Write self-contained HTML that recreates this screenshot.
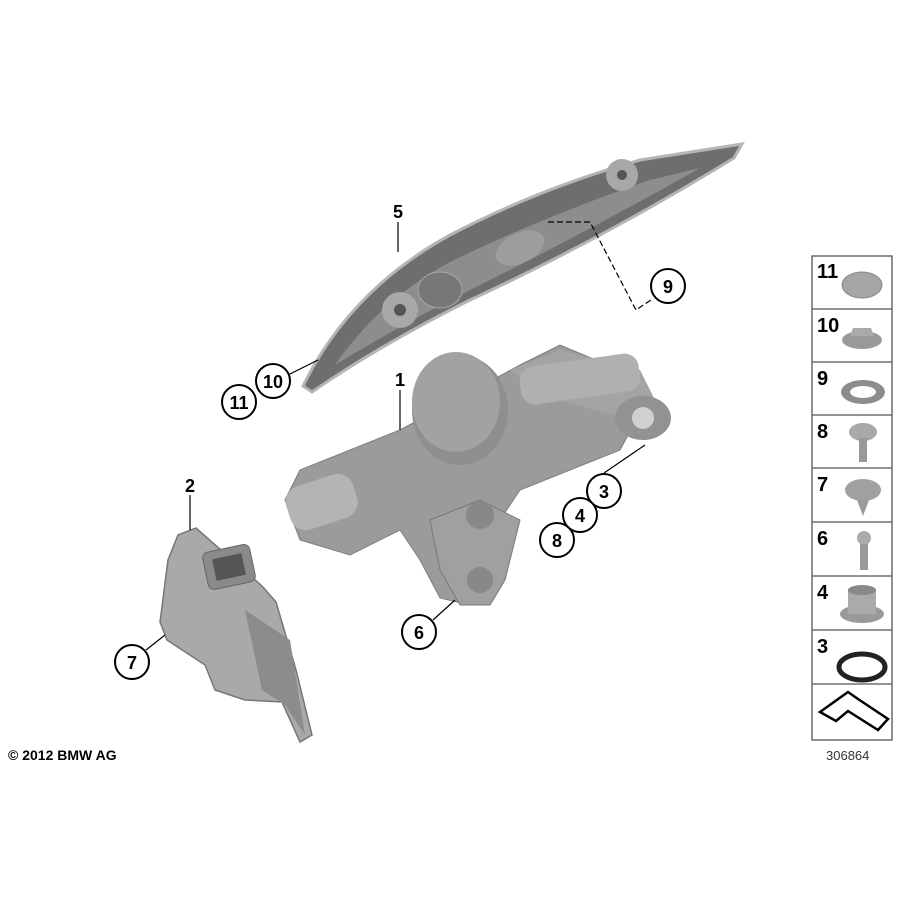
<!DOCTYPE html>
<html><head><style>
body{margin:0;background:#fff}
svg{display:block}
text{font-family:"Liberation Sans",sans-serif;font-weight:bold}
</style></head><body>
<svg width="900" height="900" viewBox="0 0 900 900">
<!-- arm 5 -->
<path d="M303,386 Q350,290 450,235 Q540,188 640,160 L742,144 L734,158 Q600,240 470,300 Q380,345 312,392 Z" fill="#6e6e6e" stroke="#b5b5b5" stroke-width="3"/>
<path d="M335,365 Q380,300 450,262 Q540,218 650,180 L700,168 Q600,225 480,285 Q400,325 335,365 Z" fill="#8d8d8d"/>
<circle cx="400" cy="310" r="18" fill="#a8a8a8"/><circle cx="400" cy="310" r="6" fill="#555"/>
<circle cx="622" cy="175" r="16" fill="#a8a8a8"/><circle cx="622" cy="175" r="5" fill="#555"/>
<ellipse cx="520" cy="248" rx="26" ry="15" fill="#9d9d9d" transform="rotate(-25 520 248)"/>
<ellipse cx="440" cy="290" rx="22" ry="18" fill="#777" stroke="#aaa"/>
<!-- bracket 2 -->
<polygon points="178,535 196,528 262,586 276,602 296,670 312,735 300,742 282,702 245,700 215,690 205,665 167,640 160,622 168,560" fill="#a9a9a9" stroke="#777" stroke-width="1.5"/>
<polygon points="245,610 290,640 305,735 285,705 262,690" fill="#8c8c8c"/>
<rect x="205" y="548" width="48" height="38" rx="6" fill="#8a8a8a" stroke="#666" transform="rotate(-12 229 567)"/>
<rect x="214" y="556" width="30" height="22" fill="#555" transform="rotate(-12 229 567)"/>
<!-- motor 1 -->
<polygon points="285,500 300,470 400,430 520,365 560,345 620,370 650,395 620,450 520,490 500,520 490,560 470,605 440,598 420,560 400,530 350,555 300,540" fill="#9b9b9b" stroke="#7d7d7d"/>
<polygon points="510,370 560,350 640,370 655,400 630,420 560,400" fill="#a4a4a4"/>
<rect x="520" y="360" width="120" height="38" rx="14" fill="#b0b0b0" transform="rotate(-8 580 380)"/>
<ellipse cx="643" cy="418" rx="28" ry="22" fill="#929292"/><circle cx="643" cy="418" r="11" fill="#d0d0d0"/>
<ellipse cx="460" cy="410" rx="48" ry="55" fill="#8f8f8f"/>
<ellipse cx="456" cy="402" rx="44" ry="50" fill="#a2a2a2"/>
<rect x="286" y="480" width="70" height="45" rx="16" fill="#b4b4b4" transform="rotate(-18 320 500)"/>
<polygon points="430,520 480,500 520,520 505,580 490,605 460,605 440,570" fill="#a0a0a0" stroke="#777"/>
<circle cx="480" cy="580" r="13" fill="#888"/><circle cx="480" cy="515" r="14" fill="#888"/>
<!-- leaders -->
<g stroke="#000" stroke-width="1.2" fill="none">
<line x1="398" y1="222" x2="398" y2="252"/>
<line x1="400" y1="390" x2="400" y2="430"/>
<line x1="190" y1="495" x2="190" y2="530"/>
<polyline points="548,222 590,222 636,310 651,300" stroke-dasharray="6,3"/>
<line x1="288" y1="375" x2="318" y2="360"/>
<line x1="604" y1="473" x2="645" y2="445"/>
<line x1="433" y1="620" x2="455" y2="600"/>
<line x1="146" y1="650" x2="165" y2="635"/>
</g>
<g fill="#fff" stroke="#000" stroke-width="2">
<circle cx="668" cy="286" r="17"/><circle cx="273" cy="381" r="17"/><circle cx="239" cy="402" r="17"/>
<circle cx="604" cy="491" r="17"/><circle cx="580" cy="515" r="17"/><circle cx="557" cy="540" r="17"/>
<circle cx="419" cy="632" r="17"/><circle cx="132" cy="662" r="17"/>
</g>
<g font-size="18" text-anchor="middle">
<text x="668" y="293">9</text><text x="273" y="388">10</text><text x="239" y="409">11</text>
<text x="604" y="498">3</text><text x="580" y="522">4</text><text x="557" y="547">8</text>
<text x="419" y="639">6</text><text x="132" y="669">7</text>
<text x="398" y="218">5</text><text x="400" y="386">1</text><text x="190" y="492">2</text>
</g>
<text x="8" y="760" font-size="14">© 2012 BMW AG</text>
<!-- right column -->
<g fill="none" stroke="#555" stroke-width="1.3">
<rect x="812" y="256" width="80" height="484"/>
<line x1="812" y1="309" x2="892" y2="309"/><line x1="812" y1="362" x2="892" y2="362"/>
<line x1="812" y1="415" x2="892" y2="415"/><line x1="812" y1="468" x2="892" y2="468"/>
<line x1="812" y1="522" x2="892" y2="522"/><line x1="812" y1="576" x2="892" y2="576"/>
<line x1="812" y1="630" x2="892" y2="630"/><line x1="812" y1="684" x2="892" y2="684"/>
</g>
<g font-size="20">
<text x="817" y="278">11</text><text x="817" y="332">10</text><text x="817" y="385">9</text>
<text x="817" y="438">8</text><text x="817" y="491">7</text><text x="817" y="545">6</text>
<text x="817" y="599">4</text><text x="817" y="653">3</text>
</g>
<ellipse cx="862" cy="285" rx="20" ry="13" fill="#a5a5a5" stroke="#888"/>
<ellipse cx="862" cy="340" rx="20" ry="9" fill="#999"/><polygon points="853,328 871,328 874,336 850,336" fill="#aaa"/>
<ellipse cx="863" cy="392" rx="22" ry="12" fill="#8d8d8d"/><ellipse cx="863" cy="392" rx="13" ry="6" fill="#fff"/>
<ellipse cx="863" cy="432" rx="14" ry="9" fill="#a9a9a9"/><rect x="859" y="438" width="8" height="24" fill="#999"/>
<ellipse cx="863" cy="490" rx="18" ry="11" fill="#a0a0a0"/><polygon points="857,500 869,500 863,516" fill="#999"/>
<circle cx="864" cy="538" r="7" fill="#aaa"/><rect x="860" y="544" width="8" height="26" fill="#999"/>
<ellipse cx="862" cy="614" rx="22" ry="9" fill="#999"/><rect x="848" y="590" width="28" height="24" fill="#aaa"/><ellipse cx="862" cy="590" rx="14" ry="5" fill="#888"/>
<ellipse cx="862" cy="667" rx="23" ry="13" fill="none" stroke="#222" stroke-width="5"/>
<polygon points="820,712 848,692 858,699 888,719 878,730 848,711 836,721" fill="#fff" stroke="#000" stroke-width="2.5"/>
<text x="826" y="760" font-size="13" style="font-weight:normal" fill="#333">306864</text>
</svg>
</body></html>
